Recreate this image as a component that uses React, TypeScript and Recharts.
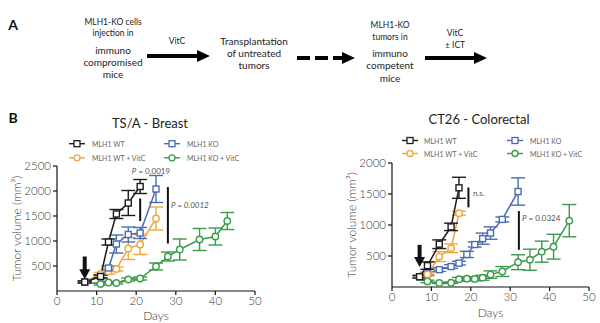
import { LineChart, Line, XAxis, YAxis, ErrorBar, ReferenceLine, ReferenceDot } from 'recharts';

const FONT = 'Lato, "Open Sans", sans-serif';
const BLACK = '#1c1c1c';
const ORANGE = '#f2a53a';
const BLUE = '#4a6cb3';
const GREEN = '#3a9b4a';

// TS/A - Breast
const tsaWtDays = [7, 11, 13, 15, 18, 21];
const tsaWtVol = [180, 290, 980, 1540, 1760, 2090];
const tsaWtErr = [20, 30, 60, 90, 250, 140];
const tsaWtVitcDays = [7, 11, 13, 15, 18, 21, 25];
const tsaWtVitcVol = [180, 340, 390, 440, 850, 930, 1450];
const tsaWtVitcErr = [20, 30, 50, 40, 220, 200, 230];
const tsaKoDays = [7, 11, 13, 15, 18, 21, 25];
const tsaKoVol = [180, 290, 460, 940, 1130, 1160, 2040];
const tsaKoErr = [20, 30, 40, 180, 150, 110, 270];
const tsaKoVitcDays = [7, 11, 13, 15, 18, 21, 25, 28, 31, 36, 40, 43];
const tsaKoVitcVol = [180, 140, 170, 160, 230, 250, 490, 690, 830, 1030, 1090, 1400];
const tsaKoVitcErr = [20, 20, 20, 20, 30, 30, 70, 90, 210, 220, 170, 170];

// CT26 - Colorectal
const ctWtDays = [7, 9, 12, 15, 17];
const ctWtVol = [165, 345, 690, 970, 1600];
const ctWtErr = [20, 60, 70, 60, 170];
const ctWtVitcDays = [7, 9, 12, 15, 17];
const ctWtVitcVol = [165, 205, 490, 625, 1190];
const ctWtVitcErr = [20, 30, 80, 70, 30];
const ctKoDays = [7, 9, 12, 15, 17, 19, 21, 23, 25, 28, 32];
const ctKoVol = [165, 215, 280, 330, 385, 525, 685, 780, 870, 1090, 1540];
const ctKoErr = [20, 20, 30, 30, 30, 50, 40, 90, 100, 40, 220];
const ctKoVitcDays = [7, 9, 12, 15, 17, 19, 21, 23, 25, 28, 32, 35, 38, 41, 45];
const ctKoVitcVol = [165, 90, 65, 70, 125, 135, 130, 150, 200, 250, 400, 440, 570, 650, 1070];
const ctKoVitcErr = [20, 20, 10, 10, 30, 30, 30, 40, 60, 80, 120, 170, 170, 200, 260];

const xTicks = [0, 10, 20, 30, 40, 50];
const tsaYTicks = [500, 1000, 1500, 2000, 2500];
const ctYTicks = [500, 1000, 1500, 2000];

const rows = (days: number[], vol: number[], err: number[]) =>
  days.map((d, i) => ({ day: d, v: vol[i], err: err[i] }));

const squareDot = (color: string) => (p: any) => {
  if (p.cx == null || p.cy == null) return <g key={p.index} />;
  return <rect key={p.index} x={p.cx - 3} y={p.cy - 3} width={6} height={6} fill="#fff" stroke={color} strokeWidth={1.4} />;
};
const circleDot = (color: string) => (p: any) => {
  if (p.cx == null || p.cy == null) return <g key={p.index} />;
  return <circle key={p.index} cx={p.cx} cy={p.cy} r={3.2} fill="#fff" stroke={color} strokeWidth={1.4} />;
};

const arrowHead = (p: any) => (
  <path d={`M${p.cx - 5.5},${p.cy - 10} L${p.cx + 5.5},${p.cy - 10} L${p.cx},${p.cy} Z`} fill="#111" />
);

type Series = { data: any[]; color: string; shape: 'square' | 'circle' };

function Panel(props: {
  left: number; top: number; width: number; height: number;
  margin: any; yWidth: number; xHeight: number; yMax: number; yTicks: number[];
  series: Series[]; arrow: number[]; sigs: number[][]; yLabelOffset: number; daysOffset: number;
}) {
  const { left, top, width, height, margin, yWidth, xHeight, yMax, yTicks, series, arrow, sigs } = props;
  const tick = { fontSize: 11.5, fill: '#3a3a3a', fontFamily: FONT, fontWeight: 300 };
  return (
    <div style={{ position: 'absolute', left, top }}>
      <LineChart width={width} height={height} margin={margin}>
        <XAxis
          type="number" dataKey="day" domain={[0, 50]} ticks={xTicks} allowDataOverflow
          stroke="#111" strokeWidth={1.2} tickSize={4} tick={tick} height={xHeight}
          label={{ value: 'Days', position: 'insideBottom', offset: props.daysOffset, style: { fontSize: 12, fill: '#3a3a3a', fontFamily: FONT, fontWeight: 300 } }}
        />
        <YAxis
          type="number" domain={[0, yMax]} ticks={yTicks} stroke="#111" strokeWidth={1.2}
          tickSize={4} tick={tick} width={yWidth}
          label={{ value: 'Tumor volume (mm³)', angle: -90, position: 'insideLeft', offset: props.yLabelOffset, style: { textAnchor: 'middle', fontSize: 12, fill: '#3a3a3a', fontFamily: FONT, fontWeight: 300 } }}
        />
        {series.map((s, i) => (
          <Line
            key={i} data={s.data} dataKey="v" type="linear" stroke={s.color} strokeWidth={1.5}
            dot={s.shape === 'square' ? squareDot(s.color) : circleDot(s.color)}
            isAnimationActive={false}
          >
            <ErrorBar dataKey="err" width={7} stroke={s.color} strokeWidth={1.4} />
          </Line>
        ))}
        {sigs.map((s, i) => (
          <ReferenceLine key={i} segment={[{ x: s[0], y: s[1] }, { x: s[0], y: s[2] }]} stroke="#111" strokeWidth={2} />
        ))}
        <ReferenceLine segment={[{ x: 7, y: arrow[0] }, { x: 7, y: arrow[1] }]} stroke="#111" strokeWidth={4} />
        <ReferenceDot x={7} y={arrow[2]} r={0} shape={arrowHead} />
      </LineChart>
    </div>
  );
}

function LegendItem({ x, tx, y, color, shape, label }: any) {
  return (
    <g>
      <line x1={x - 8} x2={x + 8} y1={y} y2={y} stroke={color} strokeWidth={1.4} />
      {shape === 'square'
        ? <rect x={x - 3} y={y - 3} width={6} height={6} fill="#fff" stroke={color} strokeWidth={1.3} />
        : <circle cx={x} cy={y} r={3} fill="#fff" stroke={color} strokeWidth={1.3} />}
      <text x={tx} y={y} fontSize={7} fill="#666" dominantBaseline="central">{label}</text>
    </g>
  );
}

function Arrow({ x1, x2, y, dashed }: any) {
  return (
    <g>
      <line x1={x1} x2={x2 - 10} y1={y} y2={y} stroke="#000" strokeWidth={4} strokeDasharray={dashed ? '13 5' : undefined} />
      <path d={`M${x2 - 13},${y - 6} L${x2},${y} L${x2 - 13},${y + 6} Z`} fill="#000" />
    </g>
  );
}

function T({ x, y, s, children, anchor = 'middle', weight = 400, italic = false, fill = '#222' }: any) {
  return (
    <text x={x} y={y} fontSize={s} textAnchor={anchor} fontWeight={weight} fontStyle={italic ? 'italic' : 'normal'} fill={fill} dominantBaseline="central">
      {children}
    </text>
  );
}

export default function App() {
  const tsaSeries: Series[] = [
    { data: rows(tsaKoVitcDays, tsaKoVitcVol, tsaKoVitcErr), color: GREEN, shape: 'circle' },
    { data: rows(tsaWtVitcDays, tsaWtVitcVol, tsaWtVitcErr), color: ORANGE, shape: 'circle' },
    { data: rows(tsaKoDays, tsaKoVol, tsaKoErr), color: BLUE, shape: 'square' },
    { data: rows(tsaWtDays, tsaWtVol, tsaWtErr), color: BLACK, shape: 'square' },
  ];
  const ctSeries: Series[] = [
    { data: rows(ctKoVitcDays, ctKoVitcVol, ctKoVitcErr), color: GREEN, shape: 'circle' },
    { data: rows(ctKoDays, ctKoVol, ctKoErr), color: BLUE, shape: 'square' },
    { data: rows(ctWtVitcDays, ctWtVitcVol, ctWtVitcErr), color: ORANGE, shape: 'circle' },
    { data: rows(ctWtDays, ctWtVol, ctWtErr), color: BLACK, shape: 'square' },
  ];

  return (
    <div style={{ position: 'absolute', left: 0, top: 0, width: 600, height: 323, background: '#fff', fontFamily: FONT, overflow: 'hidden' }}>
      <Panel
        left={0} top={100} width={270} height={223}
        margin={{ top: 66, right: 15, bottom: 0, left: 0 }} yWidth={57} xHeight={32}
        yMax={2500} yTicks={tsaYTicks} series={tsaSeries}
        arrow={[690, 420, 234]} sigs={[[21, 1850, 1400], [28, 2080, 950]]}
        yLabelOffset={17} daysOffset={3}
      />
      <Panel
        left={300} top={100} width={300} height={223}
        margin={{ top: 63, right: 11, bottom: 0, left: 0 }} yWidth={92} xHeight={36}
        yMax={2000} yTicks={ctYTicks} series={ctSeries}
        arrow={[680, 465, 321]} sigs={[[19.4, 1605, 1284], [32.2, 1225, 600]]}
        yLabelOffset={52} daysOffset={6}
      />
      <svg width={600} height={323} style={{ position: 'absolute', left: 0, top: 0, pointerEvents: 'none', fontFamily: FONT }}>
        <T x={13} y={24} s={14} weight={700} fill="#111">A</T>
        <T x={113} y={22} s={8.5}>MLH1-KO cells</T>
        <T x={113} y={33} s={8.5}>injection in</T>
        <T x={113} y={50} s={10}>immuno</T>
        <T x={113} y={62} s={10}>compromised</T>
        <T x={113} y={74} s={10}>mice</T>
        <T x={177} y={41} s={8.5}>VitC</T>
        <Arrow x1={147} x2={210} y={56} />
        <T x={254} y={41} s={10}>Transplantation</T>
        <T x={254} y={53} s={10}>of untreated</T>
        <T x={254} y={65} s={10}>tumors</T>
        <Arrow x1={297} x2={355} y={58} dashed />
        <T x={390} y={25} s={8.5}>MLH1-KO</T>
        <T x={390} y={37} s={8.5}>tumors in</T>
        <T x={390} y={53} s={10}>immuno</T>
        <T x={390} y={65} s={10}>competent</T>
        <T x={390} y={78} s={10}>mice</T>
        <T x={455} y={33} s={8.5}>VitC</T>
        <T x={455} y={45} s={8.5}>± ICT</T>
        <Arrow x1={425} x2={487} y={58} />

        <T x={13} y={117} s={14} weight={700} fill="#111">B</T>
        <T x={150} y={123} s={13}>TS/A - Breast</T>
        <T x={479} y={119} s={13}>CT26 - Colorectal</T>

        <LegendItem x={77} tx={92} y={143.7} color={BLACK} shape="square" label="MLH1 WT" />
        <LegendItem x={77} tx={92} y={157.8} color={ORANGE} shape="circle" label="MLH1 WT + VitC" />
        <LegendItem x={172} tx={187} y={143.7} color={BLUE} shape="square" label="MLH1 KO" />
        <LegendItem x={172} tx={187} y={157.8} color={GREEN} shape="circle" label="MLH1 KO + VitC" />

        <LegendItem x={410} tx={424} y={140.5} color={BLACK} shape="square" label="MLH1 WT" />
        <LegendItem x={410} tx={424} y={153.5} color={ORANGE} shape="circle" label="MLH1 WT + VitC" />
        <LegendItem x={515} tx={530} y={140.5} color={BLUE} shape="square" label="MLH1 KO" />
        <LegendItem x={515} tx={530} y={153.5} color={GREEN} shape="circle" label="MLH1 KO + VitC" />

        <T x={151} y={171} s={8} fill="#555"><tspan fontStyle="italic">P</tspan> = 0.0019</T>
        <T x={171} y={205} s={8} fill="#555" anchor="start" italic>P = 0.0012</T>
        <T x={473} y={193} s={8} fill="#555" anchor="start">n.s.</T>
        <T x={522} y={218} s={8} fill="#555" anchor="start"><tspan fontStyle="italic">P</tspan> = 0.0324</T>
      </svg>
    </div>
  );
}
